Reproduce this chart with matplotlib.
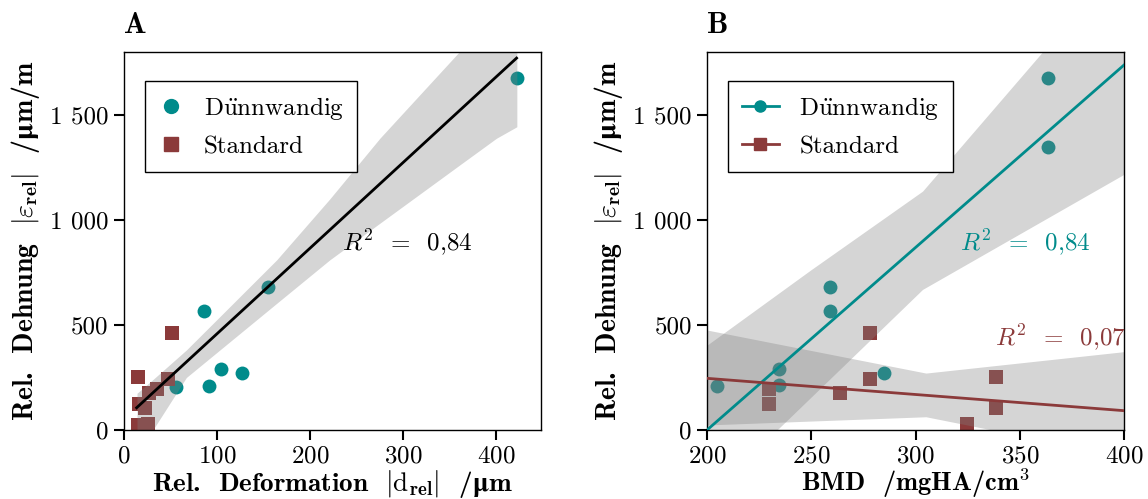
import matplotlib
matplotlib.use('Agg')
from matplotlib import pyplot as plt
from matplotlib.lines import Line2D
from matplotlib.ticker import FuncFormatter

# --- data ---
# A: deformation vs strain
thin_def = [421.7, 154.5, 85.8, 103.7, 126.6, 91.2, 56.1]
thin_str_a = [1676, 681, 567, 291, 270, 211, 206]
std_def = [52, 15, 47.5, 35, 27, 16, 22.5, 15, 26]
std_str_a = [463, 254, 241, 194, 178, 124, 107, 24, 27]

fit_a_x = [13.6, 421.7]
fit_a_y = [106, 1771]
band_a_x = [14, 31, 67, 103, 164, 221, 275, 360, 400, 422]
band_a_lo = [-40, 0, 250, 381, 603, 810, 985, 1260, 1389, 1444]
band_a_hi = [175, 240, 381, 540, 810, 1100, 1390, 1800, 1990, 2100]

# B: BMD vs strain
thin_bmd = [363.7, 363.7, 259.0, 259.0, 234.5, 234.5, 204.7, 284.9]
thin_str_b = [1676, 1347, 682, 568, 291, 216, 208, 270]
std_bmd = [278.3, 278.3, 229.7, 229.7, 263.8, 338.5, 338.5, 324.5]
std_str_b = [463, 241, 194, 124, 178, 254, 107, 27]

fit_thin_x = [200, 400]
fit_thin_y = [0, 1738]
fit_std_x = [200, 400]
fit_std_y = [246, 92]
band_thin_x = [200, 250, 303.6, 400]
band_thin_lo = [-326, 153, 667, 1214]
band_thin_hi = [400, 760, 1135, 2246]
band_std_x = [200, 305, 400]
band_std_lo = [24, 63, -125]
band_std_hi = [476, 271, 373]

teal = '#008b8b'
red = '#8b3a3a'
band_col = '#808080'

plt.rcParams['font.family'] = ['cmr10', 'DejaVu Serif']
plt.rcParams['mathtext.fontset'] = 'cm'
plt.rcParams['axes.formatter.use_mathtext'] = True
plt.rcParams['font.size'] = 18
plt.rcParams['axes.unicode_minus'] = False

bold = ['cmb10', 'DejaVu Serif']
thin_lbl = r'D$\ddot{\rm u}$nnwandig'
# mu is not in cmb10 -> mathtext bf falls back to STIX bold
ylab = 'Rel.  Dehnung  $|\\varepsilon_{\\mathbf{rel}}|$  /$\\mathbf{\u03bc}$m/m'
xlab_a = 'Rel.  Deformation  $|\\mathrm{d}_{\\mathbf{rel}}|$  /$\\mathbf{\u03bc}$m'
xlab_b = 'BMD  /mgHA/cm$^{\\mathbf{3}}$'
r2_txt = '$R^2$  =  0,{}'


def thousands(v, p):
    return f'{int(v):,}'.replace(',', ' ')


fig = plt.figure(figsize=(11.48, 4.99), dpi=100)
ax_a = fig.add_axes([0.108, 0.1383, 0.3633, 0.7575])
ax_b = fig.add_axes([0.6159, 0.1383, 0.3632, 0.7575])

for ax in (ax_a, ax_b):
    ax.set_ylim(0, 1800)
    ax.set_yticks([0, 500, 1000, 1500])
    ax.yaxis.set_major_formatter(FuncFormatter(thousands))
    ax.tick_params(length=7, width=1.5, pad=4)
    for s in ax.spines.values():
        s.set_linewidth(1.0)
    ax.set_ylabel(ylab, family=bold, fontsize=20, labelpad=6)

# --- A ---
ax_a.scatter(thin_def, thin_str_a, s=100, marker='o', color=teal, lw=0, zorder=1)
ax_a.scatter(std_def, std_str_a, s=100, marker='s', color=red, lw=0, zorder=1)
ax_a.fill_between(band_a_x, band_a_lo, band_a_hi, color=band_col, alpha=0.33, lw=0, zorder=2)
ax_a.plot(fit_a_x, fit_a_y, color='black', lw=2, zorder=3)
ax_a.set_xlim(0, 448)
ax_a.set_xticks([0, 100, 200, 300, 400])
ax_a.set_xlabel(xlab_a, family=bold, fontsize=19.5, va='baseline')
ax_a.set_title('A', loc='left', family=bold, pad=14)
ax_a.text(234, 890, r2_txt.format('84'), ha='left', va='center', color='black')

h_a = [Line2D([], [], ls='none', marker='o', ms=10, color=teal),
       Line2D([], [], ls='none', marker='s', ms=10, color=red)]
leg = ax_a.legend(h_a, [thin_lbl, 'Standard'], loc='upper left',
                  bbox_to_anchor=(0.05, 0.923), borderaxespad=0, fancybox=False,
                  edgecolor='black', framealpha=1, handlelength=1.0,
                  handletextpad=0.8, labelspacing=0.55, borderpad=0.55)
leg.get_frame().set_linewidth(1.0)

# --- B ---
ax_b.scatter(thin_bmd, thin_str_b, s=100, marker='o', color=teal, lw=0, zorder=1)
ax_b.scatter(std_bmd, std_str_b, s=100, marker='s', color=red, lw=0, zorder=1)
ax_b.fill_between(band_thin_x, band_thin_lo, band_thin_hi, color=band_col, alpha=0.33, lw=0, zorder=2)
ax_b.fill_between(band_std_x, band_std_lo, band_std_hi, color=band_col, alpha=0.33, lw=0, zorder=2)
ax_b.plot(fit_thin_x, fit_thin_y, color=teal, lw=2, zorder=3)
ax_b.plot(fit_std_x, fit_std_y, color=red, lw=2, zorder=3)
ax_b.set_xlim(200, 400)
ax_b.set_xticks([200, 250, 300, 350, 400])
ax_b.set_xlabel(xlab_b, family=bold, fontsize=19, va='baseline')
ax_b.set_title('B', loc='left', family=bold, pad=14)
ax_b.text(321.3, 892, r2_txt.format('84'), ha='left', va='center', color=teal)
ax_b.text(338, 438, r2_txt.format('07'), ha='left', va='center', color=red)

h_b = [Line2D([], [], marker='o', ms=8, lw=2, color=teal),
       Line2D([], [], marker='s', ms=8, lw=2, color=red)]
leg = ax_b.legend(h_b, [thin_lbl, 'Standard'], loc='upper left',
                  bbox_to_anchor=(0.05, 0.923), borderaxespad=0, fancybox=False,
                  edgecolor='black', framealpha=1, handlelength=1.5,
                  handletextpad=0.8, labelspacing=0.55, borderpad=0.55)
leg.get_frame().set_linewidth(1.0)

# put both x labels on the same baseline
for ax in (ax_a, ax_b):
    ax.xaxis.set_label_coords(0.5, -0.161)

plt.savefig('out.png', dpi=100)
